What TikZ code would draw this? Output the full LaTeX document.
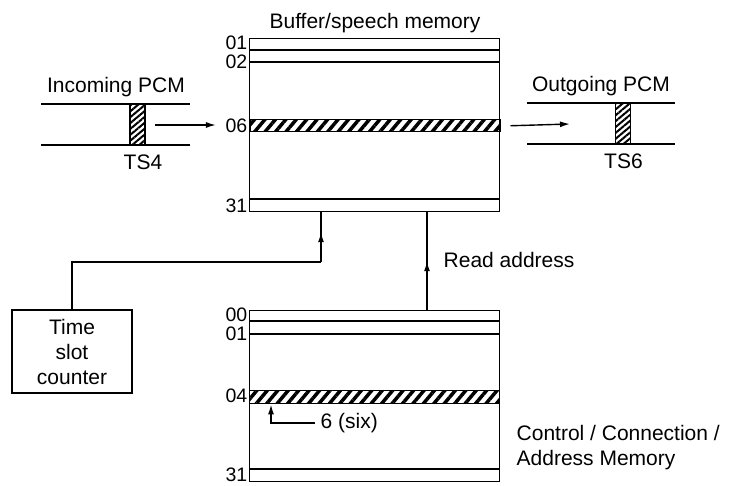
\documentclass[tikz,border=0pt]{standalone}
\usepackage{fontspec}
\setmainfont{Liberation Sans}
\usetikzlibrary{positioning,arrows.meta,patterns.meta,decorations.markings}

\begin{document}
\begin{tikzpicture}[
    x=1pt, y=-1pt,
    line width=1.4pt, inner sep=0pt,
    font=\fontsize{21}{25}\selectfont,
    mem/.style={draw, anchor=north west, minimum width=250pt},
    hatchrow/.style={draw, anchor=north west, minimum width=250pt, minimum height=12pt,
        pattern={Lines[angle=50, distance=8pt, line width=3.5pt]}},
    slot/.style={draw, minimum width=15pt, minimum height=41pt,
        pattern={Lines[angle=40, distance=4.5pt, line width=2pt]}},
    num/.style={anchor=east, font=\fontsize{19.5}{24}\selectfont},
    arr/.style={-{Latex[length=10pt,width=6pt]}},
    midarr/.style={postaction={decorate}, decoration={markings,
        mark=at position #1 with {\arrow{Latex[length=10pt,width=6pt]}}}},
    midarr/.default=0.5
]
\useasboundingbox (0,0) rectangle (731,485);

% buffer / speech memory
\node (buftitle) at (375,23) {Buffer/speech memory};
\node[mem, minimum height=173pt] (buf) at (249,38) {};
\foreach \d in {12,24,161}
    \draw ([yshift=-\d pt]buf.north west) -- ([yshift=-\d pt]buf.north east);
\node[hatchrow] (row06) at (249,118) {};
\node[num] (b01) at (248,43) {01};
\node[num] (b02) at (248,61.5) {02};
\node[num] (b06) at (248,126) {06};
\node[num] (b31) at (248,206) {31};

% incoming PCM
\node (inlbl) at (116,87) {Incoming PCM};
\draw (41,104) -- (190,104);
\draw (41,145) -- (190,145);
\node[slot] (ts4) at (137.5,124.5) {};
\node (ts4lbl) at (143,162.5) {TS4};
\coordinate (inA) at (155,125);
\draw[arr] (inA) -- ([xshift=-9pt]b06.west |- inA);

% outgoing PCM
\node (outlbl) at (601,86) {Outgoing PCM};
\draw (527,103) -- (675,103);
\draw (527,144) -- (675,144);
\node[slot] (ts6) at (623,123.5) {};
\node (ts6lbl) at (623.5,161) {TS6};
\coordinate (outB) at (570,124);
\draw[arr] ([xshift=8pt]row06.east) -- (outB);

% time slot counter
\node[draw, minimum width=120pt, minimum height=83pt, align=center] (tsc) at (72,351.5) {Time\\slot\\counter};
\coordinate (bend) at (321,262);
\draw (tsc.north) |- (bend);
\draw[midarr=0.6] (bend) -- (bend |- buf.south);

% control / connection / address memory
\node[mem, minimum height=171pt] (ctl) at (249,310) {};
\foreach \d in {11,24,159}
    \draw ([yshift=-\d pt]ctl.north west) -- ([yshift=-\d pt]ctl.north east);
\node[hatchrow, minimum height=13pt] (row04) at (249,390) {};
\node[num] (c00) at (248,314.5) {00};
\node[num] (c01) at (248,333.5) {01};
\node[num] (c04) at (248,395.5) {04};
\node[num] (c31) at (248,475) {31};
\node[anchor=west] (six) at (320,423) {6 (six)};
\draw[arr] ([xshift=-5pt]six.west) -| ([xshift=22pt]row04.south west);
\node[anchor=west, align=left] (ctllbl) at (516,447.5) {Control / Connection /\\Address Memory};

% read address
\coordinate (rdx) at (427,260);
\draw[midarr=0.5] (rdx |- ctl.north) -- (rdx |- buf.south);
\node[anchor=west] (rdlbl) at (443,260) {Read address};
\end{tikzpicture}
\end{document}
